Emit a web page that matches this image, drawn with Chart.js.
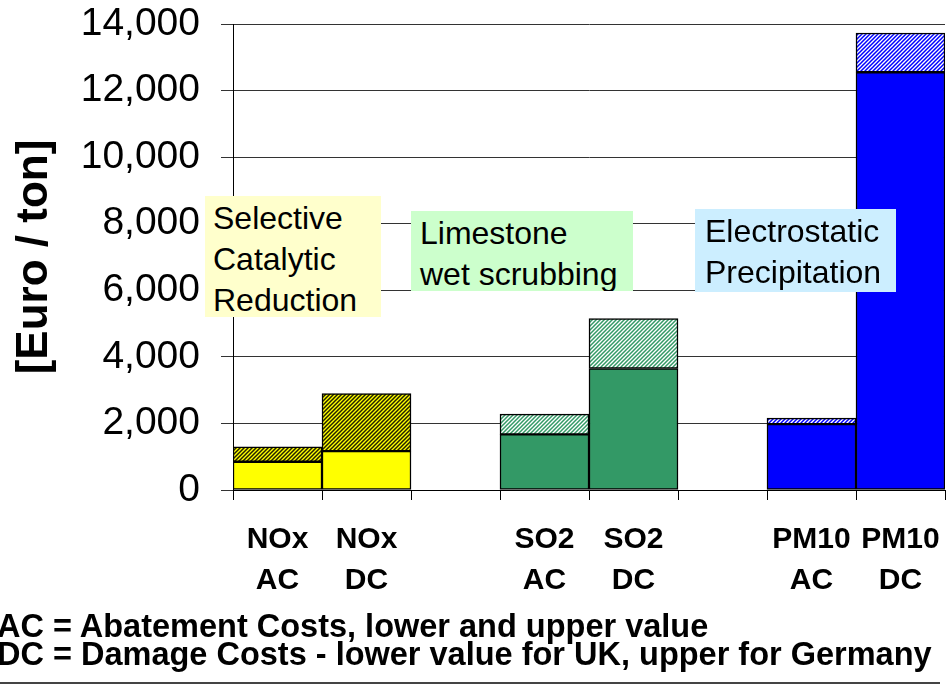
<!DOCTYPE html>
<html>
<head>
<meta charset="utf-8">
<script src="https://cdn.jsdelivr.net/npm/chart.js@4"></script>
<style>
  body { margin: 0; background: #fff; font-family: 'Liberation Sans', Arial, sans-serif; }
  #wrap { position: relative; width: 946px; height: 686px; overflow: hidden; }
  canvas { position: absolute; left: 0; top: 0; }
  .box { position: absolute; font-size: 32px; line-height: 41px; color: #000; overflow: hidden; box-sizing: border-box; white-space: nowrap; z-index: 2; }
  .note { position: absolute; left: -3px; font-weight: bold; font-size: 32.5px; line-height: 34px; white-space: nowrap; color: #000; }
  .rule { position: absolute; left: 0; top: 682px; width: 940px; border-top: 2px solid #444; }
</style>
</head>
<body>
<div id="wrap">
  <canvas id="chart" width="946" height="686"></canvas>
  <div class="box" style="left:205px;top:196px;width:176px;height:121px;background:#ffffcc;padding:2px 0 0 8px">Selective<br>Catalytic<br>Reduction</div>
  <div class="box" style="left:411px;top:211px;width:222px;height:80px;background:#ccffcc;padding:2px 0 0 9px">Limestone<br>wet scrubbing</div>
  <div class="box" style="left:695px;top:209px;width:201px;height:83px;background:#cceeff;padding:2px 0 0 10px">Electrostatic<br>Precipitation</div>
  <div class="note" style="top:609px">AC = Abatement Costs, lower and upper value</div>
  <div class="note" style="top:637px">DC = Damage Costs - lower value for UK, upper for Germany</div>
  <div class="rule"></div>
</div>
<script>
// values, Euro / ton
const categories = [['NOx', 'AC'], ['NOx', 'DC'], '', ['SO2', 'AC'], ['SO2', 'DC'], '', ['PM10', 'AC'], ['PM10', 'DC']];
const lowerValues = [850, 1170, null, 1670, 3650, null, 1980, 12550];
const upperValues = [1300, 2900, null, 2280, 5150, null, 2160, 13730];
const yTicks = [0, 2000, 4000, 6000, 8000, 10000, 12000, 14000];

const solidColors = ['#ffff00', '#ffff00', null, '#339966', '#339966', null, '#0000ff', '#0000ff'];

function hatch(bg, fg) {
    const c = document.createElement('canvas');
    c.width = 4;
    c.height = 4;
    const x = c.getContext('2d');
    x.fillStyle = bg;
    x.fillRect(0, 0, 4, 4);
    x.strokeStyle = fg;
    x.lineWidth = 1.5;
    x.beginPath();
    x.moveTo(0, 4); x.lineTo(4, 0);
    x.moveTo(-1, 1); x.lineTo(1, -1);
    x.moveTo(3, 5); x.lineTo(5, 3);
    x.stroke();
    return x.createPattern(c, 'repeat');
}

const nox = hatch('#ffff00', '#222200');
const so2 = hatch('#ffffff', '#339966');
const pm = hatch('#ffffff', '#0000ff');
const hatchColors = [nox, nox, null, so2, so2, null, pm, pm];

const font = "'Liberation Sans', Arial, sans-serif";

new Chart(document.getElementById('chart'), {
    type: 'bar',
    data: {
        labels: categories,
        datasets: [
            {
                label: 'lower',
                data: lowerValues,
                backgroundColor: solidColors,
                borderColor: '#000',
                borderWidth: 1.5,
                borderSkipped: false,
                grouped: false,
                barPercentage: 1,
                categoryPercentage: 1
            },
            {
                label: 'upper',
                data: upperValues.map((u, i) => u == null ? null : [lowerValues[i], u]),
                backgroundColor: hatchColors,
                borderColor: '#000',
                borderWidth: 1.5,
                borderSkipped: false,
                grouped: false,
                barPercentage: 1,
                categoryPercentage: 1
            }
        ]
    },
    options: {
        responsive: false,
        animation: false,
        devicePixelRatio: 1,
        layout: { padding: { top: 24, right: 1, bottom: 86, left: 0 } },
        plugins: {
            legend: { display: false },
            tooltip: { enabled: false }
        },
        scales: {
            x: {
                offset: true,
                grid: { display: true, drawOnChartArea: false, offset: true, tickLength: 10, color: '#000' },
                border: { display: true, color: '#000', width: 1 },
                ticks: {
                    color: '#000',
                    padding: 20,
                    maxRotation: 0,
                    autoSkip: false,
                    font: { family: font, size: 30, weight: 'bold', lineHeight: 1.34 }
                },
                afterFit: s => {
                    s.height = 110;
                    s.paddingLeft = 0;
                    s.paddingRight = 0;
                }
            },
            y: {
                min: 0,
                max: 14000,
                afterBuildTicks: s => { s.ticks = yTicks.map(v => ({ value: v })); },
                grid: { color: '#333', lineWidth: 1, tickLength: 12 },
                border: { display: true, color: '#000', width: 1 },
                ticks: {
                    color: '#000',
                    padding: 21,
                    font: { family: font, size: 39 },
                    callback: v => v.toLocaleString('en-US')
                },
                title: {
                    display: true,
                    text: '[Euro / ton]',
                    color: '#000',
                    padding: { top: 8, bottom: 0 },
                    font: { family: font, size: 44, weight: 'bold' }
                },
                afterFit: s => {
                    s.width = 233;
                    s.paddingTop = 0;
                    s.paddingBottom = 0;
                }
            }
        }
    }
});
</script>
</body>
</html>
